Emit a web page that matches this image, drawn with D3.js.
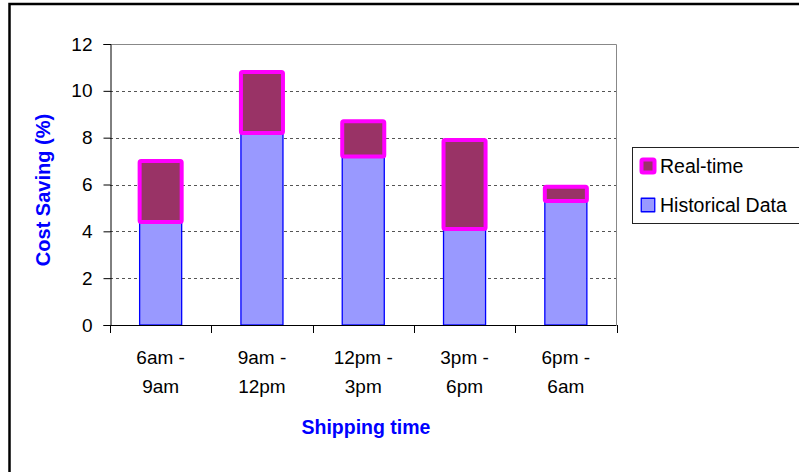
<!DOCTYPE html>
<html>
<head>
<meta charset="utf-8">
<script src="https://cdn.jsdelivr.net/npm/d3@7"></script>
<style>
  html, body { margin: 0; padding: 0; background: #fff; }
  svg { display: block; font-family: "Liberation Sans", Arial, sans-serif; }
</style>
</head>
<body>
<svg id="chart" width="799" height="472"></svg>
<script>
// Shipping windows and cost savings (%)
const categories = [["6am -", "9am"], ["9am -", "12pm"], ["12pm -", "3pm"], ["3pm -", "6pm"], ["6pm -", "6am"]];
const historical = [4.4, 8.2, 7.2, 4.1, 5.3];
const realtime = [2.6, 2.6, 1.5, 3.8, 0.6];
const yTicks = [0, 2, 4, 6, 8, 10, 12];
const seriesNames = ["Real-time", "Historical Data"];

const svg = d3.select("#chart");
const W = 799, H = 472;
const plot = { left: 110, right: 616.5, top: 44, bottom: 325 };
const labelSize = 19;

// outer frame
svg.append("rect")
  .attr("x", 9.5).attr("y", 4)
  .attr("width", W + 20).attr("height", H + 20)
  .attr("fill", "#fff").attr("stroke", "#000").attr("stroke-width", 2.5);

const x = d3.scaleBand()
  .domain(d3.range(categories.length))
  .range([plot.left, plot.right])
  .paddingInner(0.585)
  .paddingOuter(0.2925);

const y = d3.scaleLinear().domain([0, 12]).range([plot.bottom, plot.top]);

// dashed gridlines
svg.append("g")
  .selectAll("line")
  .data(yTicks.filter(d => d > 0 && d < 12))
  .join("line")
  .attr("x1", plot.left).attr("x2", plot.right)
  .attr("y1", d => Math.round(y(d)) + 0.5).attr("y2", d => Math.round(y(d)) + 0.5)
  .attr("stroke", "#555").attr("stroke-dasharray", "3,3").attr("stroke-width", 1);

// plot area border (top and right)
svg.append("path")
  .attr("d", `M${plot.left},${plot.top + 0.5}H${plot.right}V${plot.bottom}`)
  .attr("fill", "none").attr("stroke", "#888").attr("stroke-width", 1);

// historical bars
svg.append("g")
  .selectAll("rect")
  .data(historical)
  .join("rect")
  .attr("x", (d, i) => x(i))
  .attr("width", x.bandwidth())
  .attr("y", d => y(d))
  .attr("height", d => y(0) - y(d))
  .attr("fill", "#9999FF").attr("stroke", "#0000FF").attr("stroke-width", 1.3);

// real-time bars stacked on top
svg.append("g")
  .selectAll("rect")
  .data(realtime)
  .join("rect")
  .attr("x", (d, i) => x(i))
  .attr("width", x.bandwidth())
  .attr("y", (d, i) => y(historical[i] + d))
  .attr("height", (d, i) => y(historical[i]) - y(historical[i] + d))
  .attr("rx", 1.5)
  .attr("fill", "#993366").attr("stroke", "#FF00FF").attr("stroke-width", 4)
  .attr("stroke-linejoin", "round");

// y axis
const yAxis = d3.axisLeft(y).tickValues(yTicks).tickSize(7).tickPadding(11).tickFormat(d3.format("d"));
const yg = svg.append("g").attr("transform", `translate(${plot.left + 0.5},0)`).call(yAxis);
yg.select(".domain").attr("stroke", "#000");
yg.selectAll(".tick line").attr("stroke", "#000");
yg.selectAll(".tick text").attr("font-size", labelSize).attr("fill", "#000")
  .attr("font-family", "'Liberation Sans', Arial, sans-serif");

// x axis line with ticks at category boundaries
const step = x.step();
const boundaries = d3.range(categories.length + 1).map(i => plot.left + i * step);
svg.append("line")
  .attr("x1", plot.left).attr("x2", plot.right)
  .attr("y1", plot.bottom + 0.5).attr("y2", plot.bottom + 0.5)
  .attr("stroke", "#000");
svg.append("g")
  .selectAll("line")
  .data(boundaries)
  .join("line")
  .attr("x1", d => Math.round(d) + 0.5).attr("x2", d => Math.round(d) + 0.5)
  .attr("y1", plot.bottom).attr("y2", plot.bottom + 8)
  .attr("stroke", "#000");

// category labels (two lines)
const labels = svg.append("g")
  .selectAll("text")
  .data(categories)
  .join("text")
  .attr("x", (d, i) => x(i) + x.bandwidth() / 2)
  .attr("y", 364)
  .attr("text-anchor", "middle")
  .attr("font-size", labelSize)
  .attr("fill", "#000");
labels.selectAll("tspan")
  .data(d => d)
  .join("tspan")
  .attr("x", function () { return this.parentNode.getAttribute("x"); })
  .attr("dy", (d, i) => i === 0 ? 0 : 28.5)
  .text(d => d);

// axis titles
svg.append("text")
  .attr("x", 366).attr("y", 434)
  .attr("text-anchor", "middle")
  .attr("font-size", 19.5).attr("font-weight", "bold").attr("fill", "#0000FF")
  .text("Shipping time");

svg.append("text")
  .attr("transform", "translate(50,190) rotate(-90)")
  .attr("text-anchor", "middle")
  .attr("font-size", 20).attr("font-weight", "bold").attr("fill", "#0000FF")
  .text("Cost Saving (%)");

// legend
const legend = svg.append("g");
legend.append("rect")
  .attr("x", 632.5).attr("y", 147.5)
  .attr("width", 175).attr("height", 76)
  .attr("fill", "#fff").attr("stroke", "#222").attr("stroke-width", 1);

const legendItems = [
  { name: seriesNames[0], fill: "#993366", stroke: "#FF00FF", sw: 4, y: 166 },
  { name: seriesNames[1], fill: "#9999FF", stroke: "#0000FF", sw: 1.3, y: 205 }
];
legendItems.forEach(it => {
  const s = it.sw > 2 ? 13 : 13.5;
  legend.append("rect")
    .attr("x", 648 - s / 2).attr("y", it.y - s / 2)
    .attr("width", s).attr("height", s)
    .attr("rx", it.sw > 2 ? 1.5 : 0)
    .attr("fill", it.fill).attr("stroke", it.stroke).attr("stroke-width", it.sw)
    .attr("stroke-linejoin", "round");
  legend.append("text")
    .attr("x", 660).attr("y", it.y + 7)
    .attr("font-size", 19.5).attr("fill", "#000")
    .text(it.name);
});
</script>
</body>
</html>
